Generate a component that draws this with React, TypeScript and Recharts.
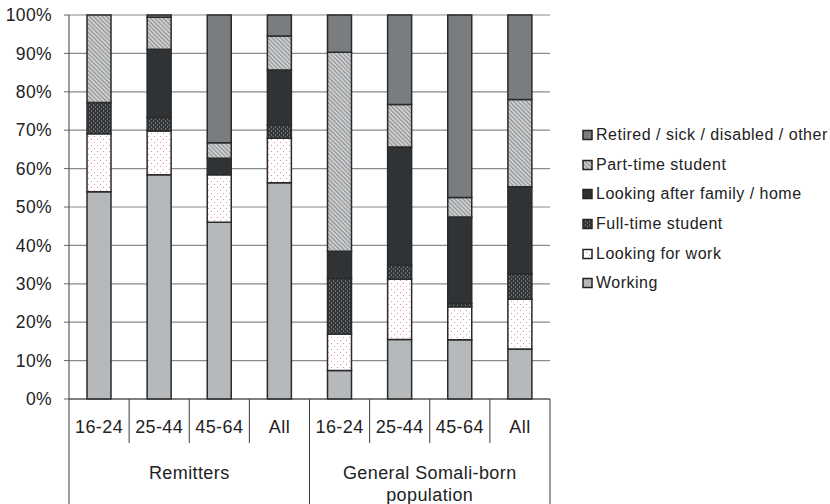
import { BarChart, Bar, XAxis, YAxis, CartesianGrid, Legend } from "recharts";

// categories
const ages = ["16-24", "25-44", "45-64", "All", "16-24", "25-44", "45-64", "All"];
const groups = [
  "Remitters", "Remitters", "Remitters", "Remitters",
  "General Somali-born population", "General Somali-born population",
  "General Somali-born population", "General Somali-born population",
];

// series values (% of each bar, bottom to top)
const working = [54, 58.4, 46, 56.3, 7.4, 15.5, 15.4, 13];
const lookingForWork = [15.1, 11.4, 12.4, 11.6, 9.5, 15.7, 8.6, 13];
const fullTimeStudent = [8.1, 3.5, 0, 3.5, 14.5, 3.6, 0.9, 6.6];
const lookingAfterFamily = [0, 17.8, 4.3, 14.3, 7.1, 30.8, 22.5, 22.7];
const partTimeStudent = [22.8, 8.3, 4, 8.8, 51.8, 11.1, 5.1, 22.7];
const retired = [0, 0.6, 33.3, 5.5, 9.7, 23.3, 47.5, 22];

const yTicks = [0, 10, 20, 30, 40, 50, 60, 70, 80, 90, 100];

const data = ages.map((age, i) => ({
  age,
  group: groups[i],
  working: working[i],
  lookingForWork: lookingForWork[i],
  fullTimeStudent: fullTimeStudent[i],
  lookingAfterFamily: lookingAfterFamily[i],
  partTimeStudent: partTimeStudent[i],
  retired: retired[i],
}));

const series = [
  { key: "working", name: "Working", fill: "#b6b9bb" },
  { key: "lookingForWork", name: "Looking for work", fill: "url(#pLfw)" },
  { key: "fullTimeStudent", name: "Full-time student", fill: "url(#pFts)" },
  { key: "lookingAfterFamily", name: "Looking after family / home", fill: "#2f3335" },
  { key: "partTimeStudent", name: "Part-time student", fill: "url(#pPts)" },
  { key: "retired", name: "Retired / sick / disabled / other", fill: "#7a7d7f" },
];

const W = 830;
const H = 504;
const LEFT = 69;
const RIGHT = 280;
const TOP = 15;
const BOTTOM = 399;
const BAND = (W - LEFT - RIGHT) / ages.length;
const FONT = '"Liberation Sans", Arial, sans-serif';
const TEXT = "#222";
const LINE = "#3a3a3a";

const AgeTick = (props: any) => {
  const { x, index, payload } = props;
  const left = x - BAND / 2;
  const long = index % 4 === 0;
  return (
    <g>
      <line x1={left} x2={left} y1={BOTTOM} y2={long ? H : BOTTOM + 44} stroke={LINE} strokeWidth={1} />
      {index === ages.length - 1 && (
        <line x1={x + BAND / 2} x2={x + BAND / 2} y1={BOTTOM} y2={H} stroke={LINE} strokeWidth={1} />
      )}
      <text
        x={x}
        y={427}
        textAnchor="middle"
        dominantBaseline="central"
        fontSize={18}
        letterSpacing={0.4}
        fill={TEXT}
        fontFamily={FONT}
      >
        {payload.value}
      </text>
    </g>
  );
};

const GroupTick = (props: any) => {
  const { x, index, payload } = props;
  if (index % 4 !== 0) return null;
  const cx = x + BAND * 1.5;
  const words = String(payload.value).split(" ");
  const lines = words.length > 2 ? [words.slice(0, 2).join(" "), words.slice(2).join(" ")] : [payload.value];
  return (
    <text
      x={cx}
      y={473}
      textAnchor="middle"
      dominantBaseline="central"
      fontSize={18}
      letterSpacing={0.4}
      fill={TEXT}
      fontFamily={FONT}
    >
      {lines.map((l: string, i: number) => (
        <tspan key={i} x={cx} dy={i === 0 ? 0 : 22}>
          {l}
        </tspan>
      ))}
    </text>
  );
};

const renderLegend = () => (
  <div style={{ fontFamily: FONT, fontSize: 16, letterSpacing: 0.5, color: TEXT }}>
    {[...series].reverse().map((s) => (
      <div key={s.key} style={{ display: "flex", alignItems: "center", height: 29.7 }}>
        <svg width={13} height={12} style={{ marginRight: 1 }}>
          <rect x={1} y={1.5} width={9} height={9} fill={s.fill} stroke="#222" strokeWidth={1.5} />
        </svg>
        <span>{s.name}</span>
      </div>
    ))}
  </div>
);

export default function App() {
  return (
    <div style={{ position: "absolute", left: 0, top: 0, width: W, height: H, background: "#fff" }}>
      <svg width={0} height={0} style={{ position: "absolute" }}>
        <defs>
          <pattern id="pLfw" width="6" height="6" patternUnits="userSpaceOnUse">
            <rect width="6" height="6" fill="#ffffff" />
            <rect x="1" y="1" width="1" height="1" fill="#e58aa5" />
            <rect x="4" y="4" width="1" height="1" fill="#e58aa5" />
          </pattern>
          <pattern id="pFts" width="4" height="4" patternUnits="userSpaceOnUse">
            <rect width="4" height="4" fill="#33373a" />
            <rect x="1" y="0" width="1" height="2" fill="#6d7173" />
            <rect x="3" y="2" width="1" height="2" fill="#6d7173" />
          </pattern>
          <pattern id="pPts" width="3" height="3" patternUnits="userSpaceOnUse" patternTransform="rotate(-45)">
            <rect width="3" height="3" fill="#d3d4d5" />
            <rect width="1.2" height="3" fill="#8c8f91" />
          </pattern>
        </defs>
      </svg>
      <BarChart
        width={W}
        height={H}
        data={data}
        barSize={24}
        margin={{ top: TOP, right: RIGHT, bottom: 0, left: 0 }}
      >
        <CartesianGrid vertical={false} stroke="#8a8a8a" strokeWidth={1.2} />
        <XAxis
          dataKey="age"
          interval={0}
          height={44}
          axisLine={{ stroke: LINE }}
          tickLine={false}
          tick={<AgeTick />}
        />
        <XAxis
          xAxisId="grp"
          dataKey="group"
          interval={0}
          height={H - BOTTOM - 44}
          axisLine={false}
          tickLine={false}
          tick={<GroupTick />}
        />
        <YAxis
          domain={[0, 100]}
          ticks={yTicks}
          interval={0}
          width={LEFT}
          tickFormatter={(v) => `${v}%`}
          axisLine={{ stroke: LINE }}
          tickLine={{ stroke: "#666" }}
          tickSize={5}
          tickMargin={12}
          tick={{ fontSize: 17.5, fill: TEXT, fontFamily: FONT, letterSpacing: 0.4 }}
        />
        <YAxis yAxisId="r" orientation="right" width={0} domain={[0, 100]} tick={false} tickLine={false} axisLine={{ stroke: "#999" }} />
        <Legend
          layout="vertical"
          align="center"
          verticalAlign="middle"
          content={renderLegend}
          wrapperStyle={{ left: 582, top: 120, width: 248 }}
        />
        {series.map((s) => (
          <Bar
            key={s.key}
            dataKey={s.key}
            name={s.name}
            stackId="a"
            fill={s.fill}
            stroke="#2a2a2a"
            strokeWidth={1.5}
            isAnimationActive={false}
          />
        ))}
      </BarChart>
    </div>
  );
}
